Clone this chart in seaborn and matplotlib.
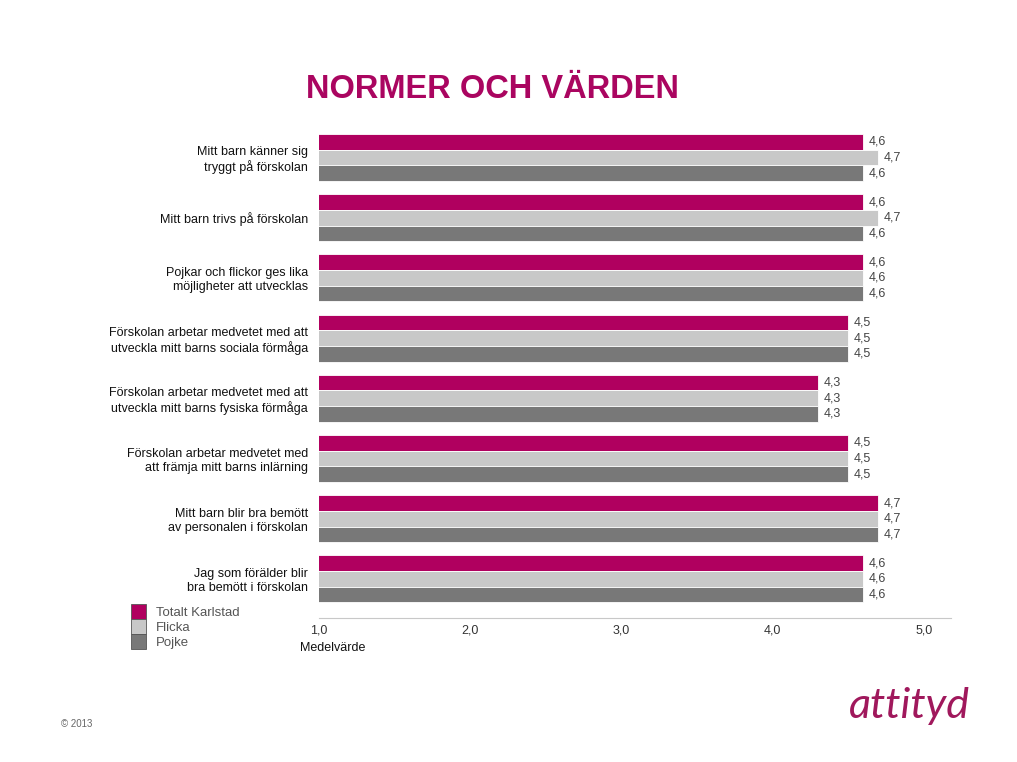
import numpy as np
import pandas as pd
import matplotlib
matplotlib.use("Agg")
import matplotlib.pyplot as plt
from matplotlib.ticker import FuncFormatter
from matplotlib.patches import Patch
import seaborn as sns

# ==============================
# Data
# ==============================
categories = [
    "Mitt barn känner sig\ntryggt på förskolan",
    "Mitt barn trivs på förskolan",
    "Pojkar och flickor ges lika\nmöjligheter att utvecklas",
    "Förskolan arbetar medvetet med att\nutveckla mitt barns sociala förmåga",
    "Förskolan arbetar medvetet med att\nutveckla mitt barns fysiska förmåga",
    "Förskolan arbetar medvetet med\natt främja mitt barns inlärning",
    "Mitt barn blir bra bemött\nav personalen i förskolan",
    "Jag som förälder blir\nbra bemött i förskolan",
]
series = ["Totalt Karlstad", "Flicka", "Pojke"]
totalt = [4.6, 4.6, 4.6, 4.5, 4.3, 4.5, 4.7, 4.6]
flicka = [4.7, 4.7, 4.6, 4.5, 4.3, 4.5, 4.7, 4.6]
pojke = [4.6, 4.6, 4.6, 4.5, 4.3, 4.5, 4.7, 4.6]
xticks = [1.0, 2.0, 3.0, 4.0, 5.0]

colors = ["#B0005F", "#C8C8C8", "#787878"]
MAGENTA = "#AA0560"

df = pd.DataFrame({
    "fraga": categories * 3,
    "serie": [s for s in series for _ in categories],
    "varde": totalt + flicka + pojke,
})

def komma(v, pos=None):
    return f"{v:.1f}".replace(".", ",")

# ==============================
# Plot
# ==============================
sns.set_style("white")
plt.rcParams["font.family"] = ["Liberation Sans", "DejaVu Sans"]

fig = plt.figure(figsize=(10.17, 7.62), dpi=100)
ax = fig.add_axes([0.3137, 0.189, 0.6213, 0.6437])

sns.barplot(data=df, x="varde", y="fraga", hue="serie", orient="h",
            palette=colors, saturation=1, width=0.78, ax=ax, legend=False,
            edgecolor="white", linewidth=0.6)

for cont in ax.containers:
    ax.bar_label(cont, fmt=komma, padding=4, fontsize=9, color="#444444")

ax.set_xlim(1.0, 5.18)
ax.set_ylim(7.65, -0.5)
ax.set_xticks(xticks)
ax.xaxis.set_major_formatter(FuncFormatter(komma))
ax.tick_params(axis="x", length=3, color="#BBBBBB", labelsize=9,
               labelcolor="#333333", pad=1.5)
ax.tick_params(axis="y", length=0, labelsize=9, labelcolor="#111111", pad=8)
ax.set_ylabel("")
ax.set_xlabel("")
for side in ["top", "right", "left"]:
    ax.spines[side].set_visible(False)
ax.spines["bottom"].set_color("#C8C8C8")
ax.spines["bottom"].set_linewidth(0.8)

fig.text(300 / 1017, 1 - 648 / 762, "Medelvärde", fontsize=9,
         color="#111111", ha="left", va="center")

handles = [Patch(facecolor=c, edgecolor="#555555", linewidth=0.6) for c in colors]
fig.legend(handles, series, loc="upper left",
           bbox_to_anchor=(126 / 1017, 1 - 599 / 762), frameon=False,
           fontsize=9.5, labelcolor="#555555", handlelength=1.15,
           handleheight=1.35, labelspacing=0.0, handletextpad=0.7,
           borderaxespad=0)

fig.text(493 / 1017, 1 - 90 / 762, "NORMER OCH VÄRDEN", fontsize=23.5,
         fontweight="bold", color=MAGENTA, ha="center", va="center")

fig.text(909 / 1017, 1 - 706 / 762, "attityd", fontsize=31, style="italic",
         fontweight="normal", family="Lato", color="#A0185C",
         ha="center", va="center")

fig.text(77 / 1017, 1 - 724 / 762, "© 2013", fontsize=7, color="#666666",
         ha="center", va="center")

fig.savefig("out.png", dpi=100, facecolor="white")
